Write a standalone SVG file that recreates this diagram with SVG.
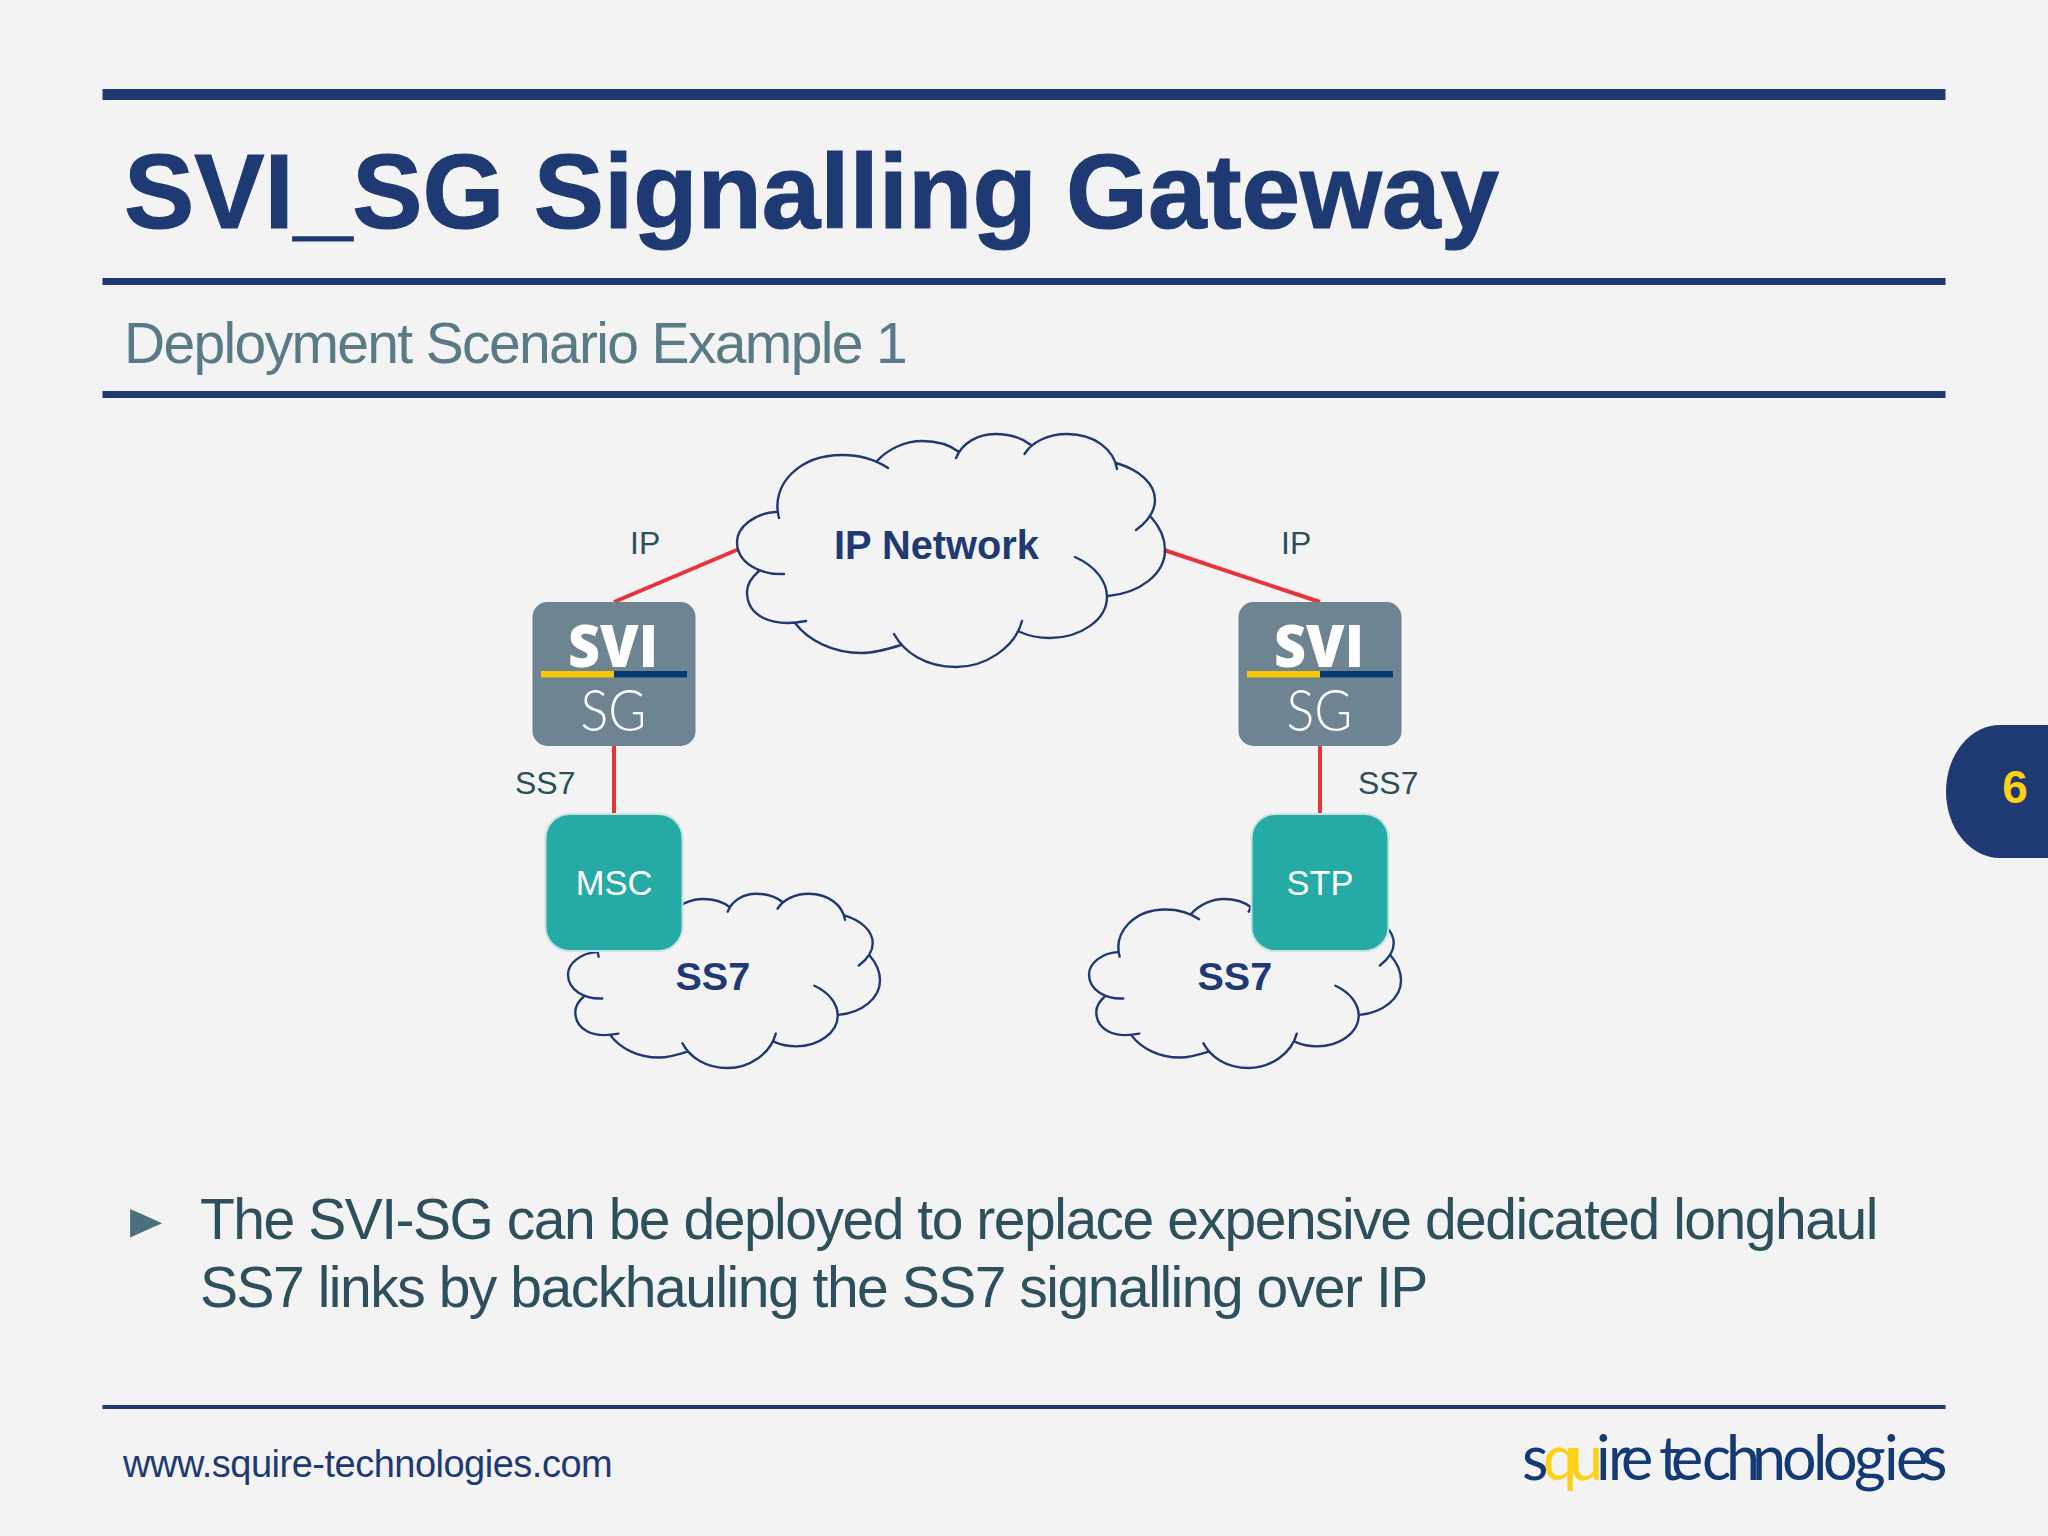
<svg xmlns="http://www.w3.org/2000/svg" xmlns:xlink="http://www.w3.org/1999/xlink" width="2048" height="1536" viewBox="0 0 2048 1536">
<style>
text{font-family:"Liberation Sans",Arial,sans-serif}
.rule{fill:#1f3a73}
.cloud{fill:none;stroke:#1f3a73;stroke-width:2.4;vector-effect:non-scaling-stroke;stroke-linecap:round}
.conn{stroke:#e8333a;stroke-width:4;fill:none}
.lbl{font-size:32px;fill:#2e4f58}
.cl{font-weight:bold;fill:#1f3a73}
.svi{fill:#6f8491}
.ne{fill:#26aaa5;stroke:#c8e4e2;stroke-width:2}
.net{font-size:34.500px;fill:#fff;text-anchor:middle}
.body{font-size:57px;fill:#2e4f5c;letter-spacing:-1.480px}
</style>
<defs>
<g id="cloudShape">
<path class="cloud" d="M779 518C770 484 800 455 842 455C860 455 876 460 888 468M877 461C888 449 905 441 922 441C938 441 950 445 959 452M956 458C962 443 978 434 995 434C1010 434 1022 438 1031 445M1024.500 454C1032 442 1048 434 1067 434C1095 434 1114 450 1117 469M1116 463C1140 470 1155 484 1155 500C1155 512 1147 522 1136 530M1151 517C1160 527 1165 538 1165 550C1165 574 1140 593 1108 596M1075 557C1095 566 1107 581 1107 597C1107 620 1080 638 1050 638C1040 638 1029 636 1020 632M1022 621C1015 648 985 667 956 667C925 667 904 652 894 634M901 645C885 650 873 653 862 653C832 653 808 640 795 623M806 621C770 628 747 615 747 592C747 585 752 577 759 571M784 574C760 575 737 563 737 542C737 527 755 513 776 512"/>
</g>
<g id="sviLogo">
<rect class="svi" x="532.500" y="602" width="163" height="144" rx="15"/>
<text x="613" y="667" text-anchor="middle" font-size="58" font-weight="800" fill="#fff" textLength="90" lengthAdjust="spacingAndGlyphs" style="font-family:'Open Sans',sans-serif">SVI</text>
<rect x="541" y="671" width="73" height="6.500" fill="#f7c50c"/>
<rect x="614" y="671" width="73" height="6.500" fill="#063a75"/>
<text x="613.500" y="731" text-anchor="middle" font-size="58" font-weight="300" fill="#fff" textLength="66" lengthAdjust="spacingAndGlyphs" style="font-family:Lato,sans-serif">SG</text>
</g>
</defs>
<rect width="2048" height="1536" fill="#f3f3f4"/>
<g id="header">
<rect class="rule" x="102.500" y="89" width="1843" height="11"/>
<text x="124" y="228" font-size="105.300" font-weight="bold" fill="#1f3a73" stroke="#1f3a73" stroke-width="1.200">SVI_SG Signalling Gateway</text>
<rect class="rule" x="102.500" y="278" width="1843" height="7"/>
<text x="124" y="362.500" font-size="57" fill="#5a7a85" letter-spacing="-1.660">Deployment Scenario Example 1</text>
<rect class="rule" x="102.500" y="391" width="1843" height="7"/>
</g>
<g id="connectors">
<path class="conn" d="M739 549L614 602M1164 550L1320 602M614 746V815M1320 746V815"/>
</g>
<g id="cloud-ip">
<use xlink:href="#cloudShape" href="#cloudShape"/>
<text class="cl" x="834" y="559" font-size="39.800">IP Network</text>
</g>
<g id="cloud-ss7-left">
<use xlink:href="#cloudShape" href="#cloudShape" transform="translate(568 893) scale(.729 .748) translate(-737 -433)"/>
<text class="cl" x="675.500" y="990" font-size="39.500">SS7</text>
</g>
<g id="cloud-ss7-right">
<use xlink:href="#cloudShape" href="#cloudShape" transform="translate(1089 893) scale(.729 .748) translate(-737 -433)"/>
<text class="cl" x="1197.500" y="990" font-size="39.500">SS7</text>
</g>
<g id="svi-left"><use xlink:href="#sviLogo" href="#sviLogo"/></g>
<g id="svi-right"><use xlink:href="#sviLogo" href="#sviLogo" transform="translate(706 0)"/></g>
<g id="msc"><rect class="ne" x="545.500" y="814" width="137" height="137" rx="24"/><text class="net" x="614" y="895">MSC</text></g>
<g id="stp"><rect class="ne" x="1251.500" y="814" width="137" height="137" rx="24"/><text class="net" x="1320" y="895">STP</text></g>
<g id="labels">
<text class="lbl" x="630" y="554">IP</text>
<text class="lbl" x="1281" y="554">IP</text>
<text class="lbl" x="515" y="794">SS7</text>
<text class="lbl" x="1358" y="794">SS7</text>
</g>
<g id="body">
<text transform="translate(130 1238) scale(1.1 1.5)" font-size="38" fill="#4a7080" style="font-family:'DejaVu Sans',sans-serif">►</text>
<text class="body" x="200" y="1239">The SVI-SG can be deployed to replace expensive dedicated longhaul</text>
<text class="body" x="200" y="1307">SS7 links by backhauling the SS7 signalling over IP</text>
</g>
<g id="footer">
<rect class="rule" x="102.500" y="1405" width="1843" height="4"/>
<text x="123" y="1477" font-size="38" fill="#1f3a73" letter-spacing="-.500">www.squire-technologies.com</text>
<text y="1480" font-size="61" fill="#143a75" style="font-family:Lato,sans-serif" x="1522 1543 1569 1596 1608 1621 1650 1659 1671 1702 1726 1752 1782 1813 1823 1854 1884 1896 1921">s<tspan fill="#fcd116">qu</tspan>ire technologies</text>
</g>
<g id="page-tab">
<path d="M2048 725H2000A54 66.500 0 0 0 2000 858H2048Z" fill="#1f3a73"/>
<text x="2015" y="803" font-size="46" font-weight="bold" fill="#fcd116" text-anchor="middle">6</text>
</g>
</svg>
